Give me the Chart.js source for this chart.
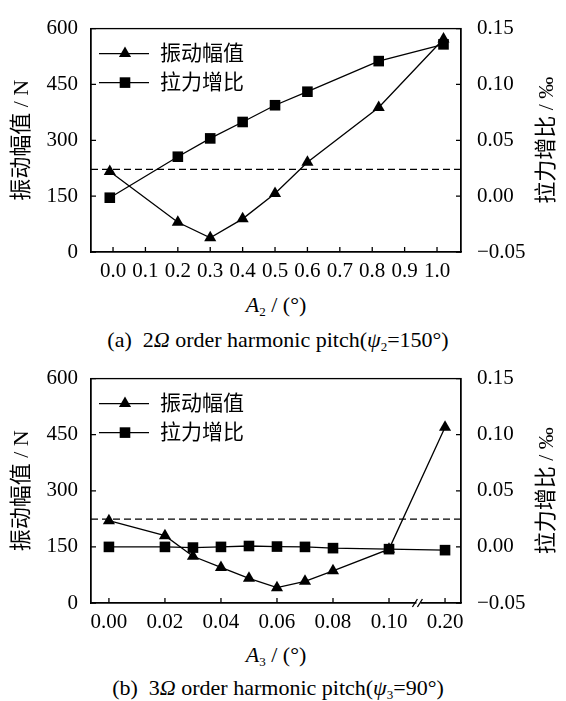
<!DOCTYPE html>
<html>
<head>
<meta charset="utf-8">
<script src="https://cdn.jsdelivr.net/npm/chart.js@4.4.0/dist/chart.umd.min.js"></script>
<style>
body { margin: 0; width: 566px; height: 701px; background: #fff; position: relative; overflow: hidden;
       font-family: 'Liberation Serif', 'Noto Sans CJK SC', serif; color: #000; }
canvas { position: absolute; left: 0; }
.txt { position: absolute; left: 0; width: 552px; text-align: center; font-size: 22px; line-height: 1; white-space: nowrap; }
.cap { width: 556px; }
sub { font-size: 13px; vertical-align: -4px; }
</style>
</head>
<body>
<canvas id="chartA" width="566" height="285" style="top:0"></canvas>
<div class="txt" style="top:294px"><i>A</i><sub>2</sub> / (°)</div>
<div class="txt cap" style="top:329px">(a)&nbsp; 2<i>Ω</i> order harmonic pitch(<i>ψ</i><sub>2</sub>=150°)</div>

<canvas id="chartB" width="566" height="285" style="top:350px"></canvas>
<div class="txt" style="top:644px"><i>A</i><sub>3</sub> / (°)</div>
<div class="txt cap" style="top:677px">(b)&nbsp; 3<i>Ω</i> order harmonic pitch(<i>ψ</i><sub>3</sub>=90°)</div>

<script>
// series names (legend)
const seriesNames = ['振动幅值', '拉力增比'];
const leftTitle = '振动幅值 / N';
const rightTitle = '拉力增比 / ‰';

// (a) 2Ω harmonic, A2 in degrees
const a2Values = [-0.01, 0.2, 0.3, 0.4, 0.5, 0.6, 0.82, 1.02];
const ampA = [216, 80, 38, 89, 157, 241, 388, 572];
const ratioA = [-0.0014, 0.0353, 0.0517, 0.0664, 0.0814, 0.0935, 0.1209, 0.1359];
const refA = 222;
const xLabelsA = ['0.0', '0.1', '0.2', '0.3', '0.4', '0.5', '0.6', '0.7', '0.8', '0.9', '1.0'];

// (b) 3Ω harmonic, A3 in degrees (axis broken after 0.10)
const a3Values = [0, 0.02, 0.03, 0.04, 0.05, 0.06, 0.07, 0.08, 0.10, 0.20];
const ampB = [220, 180, 125, 95, 66, 41, 58, 86, 144, 470];
const ratioB = [0, 0, -0.0006, 0, 0.0008, 0.0003, 0, -0.0011, -0.002, -0.0029];
const refB = 224;
const xLabelsB = ['0.00', '0.02', '0.04', '0.06', '0.08', '0.10', '0.20'];

const serif = "'Liberation Serif', 'Noto Sans CJK SC', serif";
Chart.defaults.font.family = serif;
Chart.defaults.color = '#000';

// squeeze the part after the break
const brk = v => v <= 0.1 ? v : 0.1 + (v - 0.1) * 0.2;

function drawMarker(ctx, style, r, x, y) {
    ctx.beginPath();
    if (style === 'triangle') {
        ctx.moveTo(x, y - r);
        ctx.lineTo(x + r * 0.866, y + r * 0.5);
        ctx.lineTo(x - r * 0.866, y + r * 0.5);
    } else {
        const s = r * Math.SQRT1_2;
        ctx.rect(x - s, y - s, 2 * s, 2 * s);
    }
    ctx.closePath();
    ctx.fill();
}

// inward ticks, full frame, legend, right title, axis break
const decorPlugin = {
    id: 'decor',
    afterDraw(chart) {
        const ctx = chart.ctx;
        const a = chart.chartArea;
        const {x, y, y1} = chart.scales;
        ctx.save();
        ctx.strokeStyle = '#000';
        ctx.fillStyle = '#000';
        ctx.lineWidth = 1.3;
        ctx.strokeRect(a.left, a.top, a.right - a.left, a.bottom - a.top);
        ctx.beginPath();
        x.ticks.forEach(t => {
            const px = x.getPixelForValue(t.value);
            ctx.moveTo(px, a.bottom); ctx.lineTo(px, a.bottom - 5);
        });
        y.ticks.forEach(t => {
            const py = y.getPixelForValue(t.value);
            ctx.moveTo(a.left, py); ctx.lineTo(a.left + 5, py);
        });
        y1.ticks.forEach(t => {
            const py = y1.getPixelForValue(t.value);
            ctx.moveTo(a.right, py); ctx.lineTo(a.right - 5, py);
        });
        ctx.stroke();

        // legend
        [0, 1].forEach(i => {
            const ds = chart.data.datasets[i];
            const ly = a.top + 25 + i * 29;
            const lx = a.left + 8;
            ctx.beginPath();
            ctx.moveTo(lx, ly); ctx.lineTo(lx + 50, ly);
            ctx.stroke();
            drawMarker(ctx, ds.pointStyle, ds.pointRadius, lx + 26, ly);
            ctx.font = '21px ' + serif;
            ctx.textBaseline = 'middle';
            ctx.textAlign = 'left';
            ctx.fillText(ds.label, lx + 61, ly + 1);
        });

        // right axis title, reads bottom to top
        ctx.save();
        ctx.translate(547, (a.top + a.bottom) / 2);
        ctx.rotate(-Math.PI / 2);
        ctx.textAlign = 'center';
        ctx.textBaseline = 'middle';
        ctx.font = '22px ' + serif;
        ctx.fillText(rightTitle, 0, 0);
        ctx.restore();

        if (chart.options.plugins.decor && chart.options.plugins.decor.breakAt) {
            const bx = x.getPixelForValue(chart.options.plugins.decor.breakAt);
            ctx.fillStyle = '#fff';
            ctx.fillRect(bx - 2, a.bottom - 2, 4, 4);
            ctx.beginPath();
            ctx.moveTo(bx - 6, a.bottom + 4); ctx.lineTo(bx - 1, a.bottom - 4);
            ctx.moveTo(bx - 1, a.bottom + 4); ctx.lineTo(bx + 4, a.bottom - 4);
            ctx.stroke();
        }
        ctx.restore();
    }
};

function makeChart(id, cfg) {
    const ampPts = cfg.xs.map((v, i) => ({x: cfg.map(v), y: cfg.amp[i]}));
    const ratioPts = cfg.xs.map((v, i) => ({x: cfg.map(v), y: cfg.ratio[i]}));
    const tickVals = cfg.labels.map(s => cfg.map(Number(s)));
    return new Chart(document.getElementById(id), {
        type: 'line',
        data: {
            datasets: [
                { label: seriesNames[0], data: ampPts, yAxisID: 'y', borderColor: '#000', backgroundColor: '#000',
                  borderWidth: 1.3, pointStyle: 'triangle', pointRadius: 7, pointBorderWidth: 0, tension: 0 },
                { label: seriesNames[1], data: ratioPts, yAxisID: 'y1', borderColor: '#000', backgroundColor: '#000',
                  borderWidth: 1.3, pointStyle: 'rect', pointRadius: 7.5, pointBorderWidth: 0, tension: 0 },
                { label: 'ref', data: [{x: cfg.min, y: cfg.ref}, {x: cfg.max, y: cfg.ref}], yAxisID: 'y',
                  borderColor: '#000', borderWidth: 1.3, borderDash: [7, 4], pointRadius: 0 }
            ]
        },
        options: {
            responsive: false,
            animation: false,
            devicePixelRatio: 1,
            clip: false,
            layout: { padding: { top: 17, left: 0, right: 0, bottom: 0 } },
            plugins: { legend: { display: false }, tooltip: { enabled: false }, decor: { breakAt: cfg.breakAt } },
            scales: {
                x: {
                    type: 'linear', min: cfg.min, max: cfg.max,
                    afterBuildTicks: s => { s.ticks = tickVals.map(v => ({value: v})); },
                    afterFit: s => { s.height = cfg.xHeight; },
                    ticks: { autoSkip: false, maxRotation: 0, padding: 7, font: { size: 21 },
                             callback: (v, i) => cfg.labels[i] },
                    grid: { drawOnChartArea: false, drawTicks: false },
                    border: { color: '#000', width: 1.3 }
                },
                y: {
                    position: 'left', min: 0, max: 600,
                    afterFit: s => { s.width = 91; },
                    ticks: { stepSize: 150, padding: 13, font: { size: 21 } },
                    grid: { drawOnChartArea: false, drawTicks: false },
                    border: { color: '#000', width: 1.3 },
                    title: { display: true, text: leftTitle, font: { size: 22 }, padding: { top: 9, bottom: 0 } }
                },
                y1: {
                    position: 'right', min: -0.05, max: 0.15,
                    afterFit: s => { s.width = 105; },
                    ticks: { stepSize: 0.05, padding: 16, font: { size: 21 },
                             callback: v => { const r = Math.round(v * 100) / 100; return (r < 0 ? '\u2212' : '') + Math.abs(r).toFixed(2); } },
                    grid: { drawOnChartArea: false, drawTicks: false },
                    border: { color: '#000', width: 1.3 }
                }
            }
        },
        plugins: [decorPlugin]
    });
}

makeChart('chartA', { xs: a2Values, amp: ampA, ratio: ratioA, ref: refA, labels: xLabelsA,
    map: v => v, min: -0.068, max: 1.074, xHeight: 33 });
makeChart('chartB', { xs: a3Values, amp: ampB, ratio: ratioB, ref: refB, labels: xLabelsB,
    map: brk, min: -0.0064, max: 0.1257, xHeight: 32, breakAt: 0.1105 });
</script>
</body>
</html>
